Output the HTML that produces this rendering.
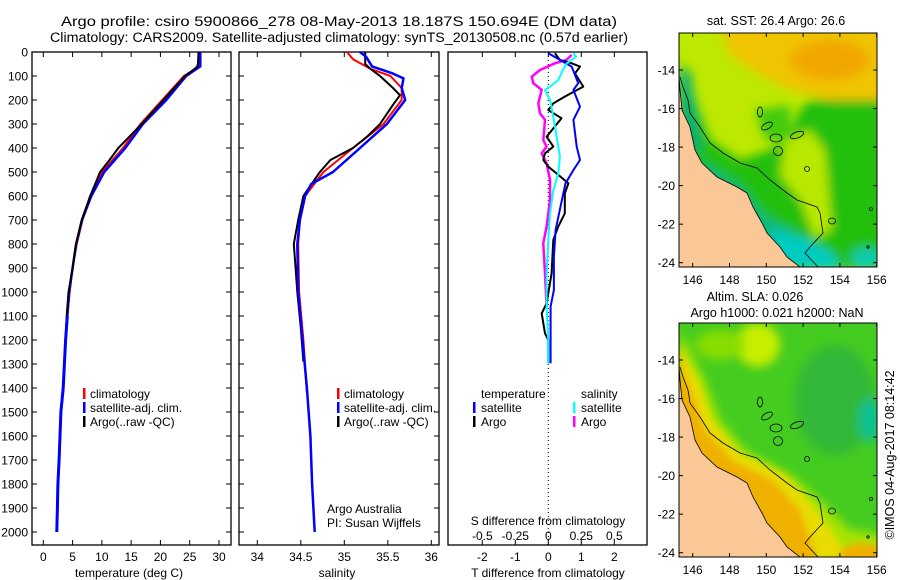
<!DOCTYPE html>
<html><head><meta charset="utf-8"><style>
html,body{margin:0;padding:0;background:#fff}
svg{display:block;font-family:"Liberation Sans",sans-serif}
</style></head><body>
<svg id="fig" width="900" height="580" viewBox="0 0 900 580" xmlns="http://www.w3.org/2000/svg">
<defs>
<filter id="bl" x="-20%" y="-20%" width="140%" height="140%"><feGaussianBlur stdDeviation="5"/></filter>
<filter id="bl2" x="-20%" y="-20%" width="140%" height="140%"><feGaussianBlur stdDeviation="3.5"/></filter>
<clipPath id="c1"><rect x="679" y="33" width="198" height="234"/></clipPath>
<clipPath id="c2"><rect x="679" y="323" width="198" height="234"/></clipPath>
</defs>
<text x="339" y="26" font-size="13.5" text-anchor="middle" textLength="556" lengthAdjust="spacingAndGlyphs">Argo profile: csiro 5900866_278 08-May-2013 18.187S 150.694E (DM data)</text>
<text x="339" y="42" font-size="13.5" text-anchor="middle" textLength="578" lengthAdjust="spacingAndGlyphs">Climatology: CARS2009. Satellite-adjusted climatology: synTS_20130508.nc (0.57d earlier)</text>
<g id="charts"></g>

<!-- Map 1 -->
<g clip-path="url(#c1)">
<rect x="679" y="33" width="198" height="234" fill="#bde800"/>
<g filter="url(#bl)">
<polygon points="720,25 885,25 885,105 830,100 790,90 760,75 730,55" fill="#f0c400"/>
<ellipse cx="830" cy="60" rx="40" ry="20" fill="#f0a800"/>
<polygon points="679,60 695,100 710,140 740,160 770,150 790,135 800,110 810,100 885,100 885,270 679,270" fill="#22c010"/>
<polygon points="785,140 810,130 825,150 832,230 815,238 800,200 780,175" fill="#b8e800"/>
<polygon points="755,110 790,105 792,140 765,140" fill="#44cc10"/>
<polygon points="679,70 690,70 702,150 679,160" fill="#10b070"/>
<polygon points="700,160 740,185 765,215 800,235 835,262 800,270 679,270" fill="#10b878"/>
<polygon points="770,228 810,240 835,255 840,270 780,270" fill="#00ccc0"/>
<ellipse cx="866" cy="258" rx="15" ry="10" fill="#10ccb0"/>
</g>
<polygon points="679,77 680,90 682,110 690,127 695,150 702,163 717,177 737,187 747,193 753,207 762,223 767,233 780,247 787,257 800,267 679,267" fill="#f9c896" stroke="#000" stroke-width="0.8"/>
<polyline points="680,77 683,87 688,100 690,113 700,127 710,143 723,153 735,160 740,163 757,168 770,180 787,193 797,200 817,207 820,213 823,233 810,247 805,253 818,267" fill="none" stroke="#000" stroke-width="0.8"/>
<g fill="none" stroke="#000" stroke-width="0.8">
<circle cx="778" cy="151" r="4.5"/><ellipse cx="760" cy="112" rx="2.5" ry="5"/><ellipse cx="767" cy="126" rx="6" ry="3" transform="rotate(-30 767 126)"/><ellipse cx="776" cy="138" rx="6" ry="4"/><ellipse cx="797" cy="135" rx="7" ry="3" transform="rotate(-20 797 135)"/><circle cx="807" cy="169" r="2.5"/><ellipse cx="832" cy="221" rx="3.5" ry="3"/><circle cx="871" cy="209" r="1.5"/><circle cx="868" cy="247" r="1.2"/>
</g>
</g>
<!-- Map 2 -->
<g clip-path="url(#c2)">
<rect x="679" y="323" width="198" height="234" fill="#44cc20"/>
<g filter="url(#bl)">
<ellipse cx="758" cy="345" rx="22" ry="22" fill="#c8ee00"/>
<ellipse cx="720" cy="345" rx="25" ry="15" fill="#88dd00"/>
<ellipse cx="835" cy="400" rx="40" ry="55" fill="#30b838"/>
<ellipse cx="870" cy="420" rx="12" ry="22" fill="#10c090"/>
<polygon points="679,330 705,380 720,420 745,450 795,478 825,505 850,530 885,535 885,560 679,560" fill="#a8e400"/>
</g>
<g filter="url(#bl2)">
<polygon points="679,345 700,385 712,420 738,452 785,475 812,505 838,540 850,560 679,560" fill="#e8dc00"/>
<polygon points="679,355 693,395 705,430 735,462 772,480 800,510 818,560 679,560" fill="#f0b000"/>
<ellipse cx="862" cy="555" rx="22" ry="12" fill="#f0b000"/>
</g>
<polygon points="679,367 680,380 682,400 690,417 695,440 702,453 717,467 737,477 747,483 753,497 762,513 767,523 780,537 787,547 800,557 679,557" fill="#f9c896" stroke="#000" stroke-width="0.8"/>
<polyline points="680,367 683,377 688,390 690,403 700,417 710,433 723,443 735,450 740,453 757,458 770,470 787,483 797,490 817,497 820,503 823,523 810,537 805,543 818,557" fill="none" stroke="#000" stroke-width="0.8"/>
<g fill="none" stroke="#000" stroke-width="0.8">
<circle cx="778" cy="441" r="4.5"/><ellipse cx="760" cy="402" rx="2.5" ry="5"/><ellipse cx="767" cy="416" rx="6" ry="3" transform="rotate(-30 767 416)"/><ellipse cx="776" cy="428" rx="6" ry="4"/><ellipse cx="797" cy="425" rx="7" ry="3" transform="rotate(-20 797 425)"/><circle cx="807" cy="459" r="2.5"/><ellipse cx="832" cy="511" rx="3.5" ry="3"/><circle cx="871" cy="499" r="1.5"/><circle cx="868" cy="537" r="1.2"/>
</g>
</g>
<g id="maps"></g>
<text x="776" y="25" font-size="12.5" text-anchor="middle">sat. SST: 26.4 Argo: 26.6</text>
<text x="755" y="301" font-size="12.5" text-anchor="middle">Altim. SLA: 0.026</text>
<text x="777" y="317" font-size="12.5" text-anchor="middle">Argo h1000: 0.021 h2000: NaN</text>
<text transform="translate(894,455) rotate(-90)" font-size="12.5" text-anchor="middle">©IMOS 04-Aug-2017 08:14:42</text>
</svg>
<script>
// ---------- data ----------
const depthTicks = [0,100,200,300,400,500,600,700,800,900,1000,1100,1200,1300,1400,1500,1600,1700,1800,1900,2000];
const tempTicks = [0,5,10,15,20,25,30];
const salTicks = [34,34.5,35,35.5,36];
const salTickLabels = ['34','34.5','35','35.5','36'];
const tdiffTicks = [-2,-1,0,1,2];
const sdiffTicks = [-0.5,-0.25,0,0.25,0.5];

const tClimDepth = [0,40,70,100,200,300,400,500,600,700,800,900,1000,1100,1200,1250];
const tClim = [26.7,26.6,26.0,24.0,20.3,16.6,13.6,10.0,8.0,6.7,5.7,5.0,4.5,4.1,3.8,3.7];
const tSatDepth = [0,60,100,200,300,400,500,600,700,800,900,1000,1100,1200,1300,1400,1500,1600,1700,1800,1900,2000];
const tSat = [26.8,26.8,24.4,21.0,17.0,14.0,10.4,8.2,6.6,5.6,5.0,4.4,4.1,3.8,3.6,3.4,3.0,2.85,2.7,2.5,2.4,2.3];
const tArgoDepth = [0,60,100,200,300,400,450,500,600,700,800,900,1000,1100,1200,1250];
const tArgo = [26.5,26.4,24.2,20.5,16.8,12.8,11.3,9.7,8.0,6.55,5.6,5.0,4.3,4.0,3.8,3.7];

const sClimDepth = [0,30,70,100,150,200,300,400,500,600,700,800,1000,1200,1420];
const sClim = [35.03,35.10,35.30,35.53,35.66,35.66,35.45,35.10,34.76,34.55,34.49,34.47,34.48,34.53,34.57];
const sSatDepth = [0,20,60,90,110,150,200,300,400,500,550,600,700,800,1000,1200,1400,1600,1800,2000];
const sSat = [35.18,35.25,35.32,35.56,35.68,35.66,35.70,35.49,35.18,34.87,34.62,34.55,34.49,34.46,34.47,34.52,34.57,34.61,34.63,34.66];
const sArgoDepth = [0,50,70,100,150,180,220,300,350,400,450,500,600,700,800,900,1000,1150,1290];
const sArgo = [35.24,35.24,35.30,35.41,35.56,35.64,35.56,35.41,35.27,35.10,34.84,34.72,34.53,34.47,34.42,34.44,34.46,34.50,34.53];

const dTSatDepth = [5,61,130,158,228,283,394,450,492,547,644,742,853,992,1061,1256,1297];
const dTSat = [0.0,0.71,0.91,0.76,0.96,0.76,0.86,0.96,0.76,0.52,0.37,0.22,0.17,0.17,0.07,0.07,0.07];
const dTArgoDepth = [5,33,47,61,89,144,186,214,242,276,353,394,422,450,478,506,547,589,672,728,783,922,1047,1089,1172,1200,1297];
const dTArgo = [0.2,0.35,0.71,0.96,0.81,1.06,0.5,0.15,0.0,0.4,-0.05,0.15,-0.1,-0.15,0.0,0.25,0.61,0.5,0.5,0.3,0.15,0.1,-0.05,-0.2,-0.1,0.0,0.0];
const dSSatDepth = [5,19,47,75,117,144,158,200,269,353,436,506,575,672,783,922,1061,1200,1297];
const dSSat = [0.19,0.21,0.14,0.11,0.076,0.013,-0.025,0.013,0.038,0.063,0.088,0.076,0.038,0.013,0,-0.013,-0.013,0,0];
const dSArgoDepth = [12,33,47,75,103,130,158,214,256,283,367,394,422,464,533,617,728,797,922,1061];
const dSArgo = [0.177,0.139,0.05,-0.063,-0.126,-0.114,-0.05,-0.076,-0.063,-0.025,-0.038,-0.013,-0.05,-0.013,0.013,0.013,-0.013,-0.038,-0.025,-0.013];

const mapLonTicks = [146,148,150,152,154,156];
const mapLatTicks = [-14,-16,-18,-20,-22,-24];

// ---------- helpers ----------
const NS = 'http://www.w3.org/2000/svg';
const root = document.getElementById('charts');
function mk(tag, attrs, parent){ const e=document.createElementNS(NS,tag); for(const k in attrs) e.setAttribute(k,attrs[k]); (parent||root).appendChild(e); return e; }
const TOP=52, BOT=545;
const yD = d => TOP + d*0.24;
function lin(d0,d1,r0,r1){ return v => r0 + (v-d0)*(r1-r0)/(d1-d0); }
const xT = lin(0,30,43.3,219);
const xS = lin(34,36,257.3,431.3);
const xDT = lin(0,2,548.3,614.3);
const xDS = lin(0,0.5,548.3,614.3);

function frame(x0,x1,name){
  const r = mk('rect',{x:x0,y:TOP,width:x1-x0,height:BOT-TOP,fill:'none',stroke:'#000','stroke-width':1.3});
  
  
  depthTicks.forEach(d=>{
    mk('line',{x1:x0,x2:x0+5,y1:yD(d),y2:yD(d),stroke:'#000'});
    mk('line',{x1:x1-5,x2:x1,y1:yD(d),y2:yD(d),stroke:'#000'});
  });
}
function xticks(vals,sc,labels,name,labelY){
  vals.forEach((v,i)=>{
    const x=sc(v);
    mk('line',{x1:x,x2:x,y1:TOP,y2:TOP+5,stroke:'#000'});
    mk('line',{x1:x,x2:x,y1:BOT-5,y2:BOT,stroke:'#000'});
    const t=mk('text',{x:x,y:labelY,'font-size':12,'text-anchor':'middle'});
    t.textContent=labels[i];
    
    
  });
}
function line(depths,vals,sc,color,w,name){
  const pts = depths.map((d,i)=>sc(vals[i]).toFixed(1)+','+yD(d).toFixed(1)).join(' ');
  const p = mk('polyline',{points:pts,fill:'none',stroke:color,'stroke-width':w,'stroke-linejoin':'round'});
  
  
}
function txt(x,y,s,name,size,anchor){
  const t=mk('text',{x:x,y:y,'font-size':size||12,'text-anchor':anchor||'start'});
  t.textContent=s;
  
  
  return t;
}
function legendBar(x,y,color,name){
  const r=mk('rect',{x:x,y:y-10,width:2.5,height:11,fill:color});
  
  
}

// ---------- panel 1: temperature ----------
frame(32,231,'temperature-plot-frame');
depthTicks.forEach(d=>{ txt(28,yD(d)+4.5,String(d),'depth-tick-label',12,'end'); });
xticks(tempTicks,xT,tempTicks.map(String),'temperature',561);
txt(129,577,'temperature (deg C)','temperature-axis-title',12,'middle');
line(tClimDepth,tClim,xT,'#ff0000',2,'temperature-climatology-line');
line(tSatDepth,tSat,xT,'#0000ff',2.5,'temperature-satellite-line');
line(tArgoDepth,tArgo,xT,'#000000',2,'temperature-argo-line');
line(tSatDepth.slice(12),tSat.slice(12),xT,'#0000ff',3,'temperature-satellite-deep-line');
legendBar(83,398,'#ff0000','temp-legend-climatology-marker'); txt(90,398,'climatology','temp-legend-climatology');
legendBar(83,412,'#0000ff','temp-legend-satellite-marker'); txt(90,412,'satellite-adj. clim.','temp-legend-satellite');
legendBar(83,426,'#000000','temp-legend-argo-marker'); txt(90,426,'Argo(..raw -QC)','temp-legend-argo');

// ---------- panel 2: salinity ----------
frame(239,439,'salinity-plot-frame');
xticks(salTicks,xS,salTickLabels,'salinity',561);
txt(337,577,'salinity','salinity-axis-title',12,'middle');
line(sClimDepth,sClim,xS,'#ff0000',2,'salinity-climatology-line');
line(sArgoDepth,sArgo,xS,'#000000',2,'salinity-argo-line');
line(sSatDepth,sSat,xS,'#0000ff',2.5,'salinity-satellite-line');
legendBar(337,398,'#ff0000','sal-legend-climatology-marker'); txt(344,398,'climatology','sal-legend-climatology');
legendBar(337,412,'#0000ff','sal-legend-satellite-marker'); txt(344,412,'satellite-adj. clim.','sal-legend-satellite');
legendBar(337,426,'#000000','sal-legend-argo-marker'); txt(344,426,'Argo(..raw -QC)','sal-legend-argo');
txt(327,513,'Argo Australia','argo-australia-label');
txt(327,527,'PI: Susan Wijffels','pi-label');

// ---------- panel 3: differences ----------
{
  const x0=448, x1=647;
  const r=mk('rect',{x:x0,y:TOP,width:x1-x0,height:BOT-TOP,fill:'none',stroke:'#000','stroke-width':1.3});
  
  
  tdiffTicks.forEach(v=>{
    const x=xDT(v);
    mk('line',{x1:x,x2:x,y1:TOP,y2:TOP+5,stroke:'#000'});
    mk('line',{x1:x,x2:x,y1:BOT-5,y2:BOT,stroke:'#000'});
    txt(x,561,String(v),'tdiff-tick-label',12,'middle');
  });
  sdiffTicks.forEach(v=>{ txt(xDS(v),540,String(v),'sdiff-tick-label',12,'middle'); });
  const z=mk('line',{x1:xDT(0),x2:xDT(0),y1:TOP,y2:BOT,stroke:'#000','stroke-dasharray':'1,3'});
  
  
  txt(548,525,'S difference from climatology','sdiff-axis-title',12,'middle');
  txt(548,577,'T difference from climatology','tdiff-axis-title',12,'middle');
  line(dSArgoDepth,dSArgo,xDS,'#ff00ff',2.5,'sdiff-argo-line');
  line(dTArgoDepth,dTArgo,xDT,'#000000',2,'tdiff-argo-line');
  line(dTSatDepth,dTSat,xDT,'#0000ff',2,'tdiff-satellite-line');
  line(dSSatDepth,dSSat,xDS,'#00ffff',2,'sdiff-satellite-line');
  txt(481,398,'temperature','diff-legend-temperature-header');
  txt(581,398,'salinity','diff-legend-salinity-header');
  legendBar(473,412,'#0000ff','diff-legend-tsat-marker'); txt(481,412,'satellite','diff-legend-tsat');
  legendBar(473,426,'#000000','diff-legend-targo-marker'); txt(481,426,'Argo','diff-legend-targo');
  legendBar(573,412,'#00ffff','diff-legend-ssat-marker'); txt(581,412,'satellite','diff-legend-ssat');
  legendBar(573,426,'#ff00ff','diff-legend-sargo-marker'); txt(581,426,'Argo','diff-legend-sargo');
}

// ---------- map axes ----------
const mroot=document.getElementById('maps');
const xLon = lin(146,156,692.7,876.7);
const yLat = lin(-14,-24,70,262.7);
[0,290].forEach((off,mi)=>{
  const r=mk('rect',{x:679,y:33+off,width:198,height:234,fill:'none',stroke:'#000','stroke-width':1},mroot);
  
  
  mapLonTicks.forEach(v=>{
    const x=xLon(v);
    mk('line',{x1:x,x2:x,y1:33+off,y2:37+off,stroke:'#000'},mroot);
    mk('line',{x1:x,x2:x,y1:263+off,y2:267+off,stroke:'#000'},mroot);
    const t=mk('text',{x:x,y:284+off,'font-size':12,'text-anchor':'middle'},mroot);
    t.textContent=String(v);
    
    
  });
  mapLatTicks.forEach(v=>{
    const y=yLat(v)+off;
    mk('line',{x1:679,x2:683,y1:y,y2:y,stroke:'#000'},mroot);
    mk('line',{x1:873,x2:877,y1:y,y2:y,stroke:'#000'},mroot);
    const t=mk('text',{x:675,y:y+4.5,'font-size':12,'text-anchor':'end'},mroot);
    t.textContent=String(v);
    
    
  });
});
</script>
</body></html>
